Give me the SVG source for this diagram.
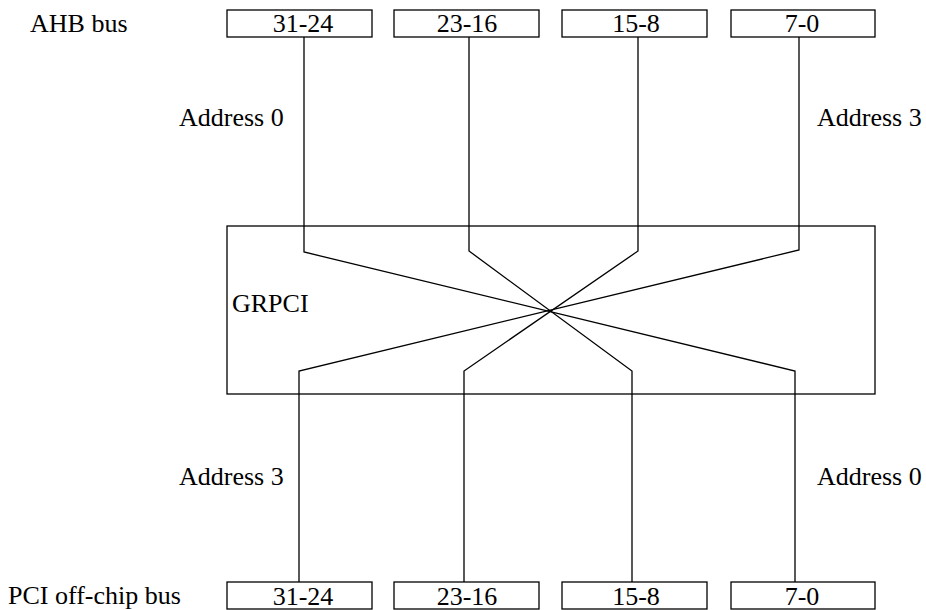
<svg xmlns="http://www.w3.org/2000/svg" width="926" height="610" viewBox="0 0 926 610">
<style>
text{font-family:"Liberation Serif","Times New Roman",serif;font-size:26px;fill:#000}
.box{fill:#fff;stroke:#000;stroke-width:1.3}
.mid{text-anchor:middle}
.wire{fill:none;stroke:#000;stroke-width:1.3}
</style>
<rect width="926" height="610" fill="#fff"/>
<text x="30" y="32">AHB bus</text>
<text x="8" y="604">PCI off-chip bus</text>
<text x="179" y="126">Address 0</text>
<text x="817" y="126">Address 3</text>
<text x="179" y="485">Address 3</text>
<text x="817" y="485">Address 0</text>
<g id="grpci">
<rect class="box" x="227" y="226" width="648" height="168"/>
<text x="232" y="312">GRPCI</text>
</g>
<g id="ahb-31-24"><rect class="box" x="227" y="10" width="145" height="27"/><text class="mid" x="303" y="32">31-24</text></g>
<g id="ahb-23-16"><rect class="box" x="394" y="10" width="145" height="27"/><text class="mid" x="467" y="32">23-16</text></g>
<g id="ahb-15-8"><rect class="box" x="562" y="10" width="145" height="27"/><text class="mid" x="636" y="32">15-8</text></g>
<g id="ahb-7-0"><rect class="box" x="731" y="10" width="144" height="27"/><text class="mid" x="802" y="32">7-0</text></g>
<g id="pci-31-24"><rect class="box" x="227" y="582" width="145" height="27"/><text class="mid" x="303" y="605">31-24</text></g>
<g id="pci-23-16"><rect class="box" x="394" y="582" width="145" height="27"/><text class="mid" x="467" y="605">23-16</text></g>
<g id="pci-15-8"><rect class="box" x="562" y="582" width="145" height="27"/><text class="mid" x="636" y="605">15-8</text></g>
<g id="pci-7-0"><rect class="box" x="731" y="582" width="144" height="27"/><text class="mid" x="802" y="605">7-0</text></g>
<g id="connectors">
<polyline class="wire" points="304,37 304,252 795,371 795,582"/>
<polyline class="wire" points="469,37 469,251 632,371 632,582"/>
<polyline class="wire" points="638,37 638,251 464,371 464,582"/>
<polyline class="wire" points="799,37 799,250 299,371 299,582"/>
</g>
</svg>
